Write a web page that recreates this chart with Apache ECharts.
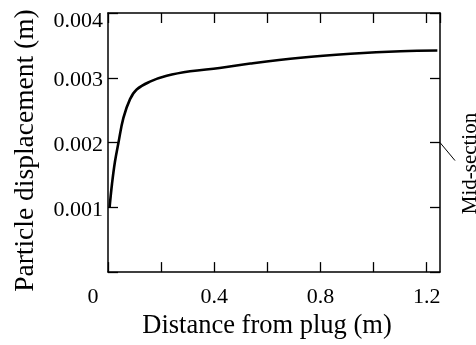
<!DOCTYPE html>
<html>
<head>
<meta charset="utf-8">
<script src="https://cdn.jsdelivr.net/npm/echarts@6/dist/echarts.min.js"></script>
<style>html,body{margin:0;padding:0;background:#fff}#c{width:476px;height:345px}</style>
</head>
<body>
<div id="c"></div>
<script>
var distance = [0.006, 0.015, 0.026, 0.039, 0.058, 0.083, 0.108, 0.158, 0.221, 0.309, 0.42, 0.536, 0.725, 0.913, 1.102, 1.24];
var displacement = [0.00100, 0.00136, 0.00170, 0.00199, 0.00238, 0.00267, 0.00282, 0.00294, 0.00303, 0.00310, 0.00315, 0.00322, 0.00331, 0.00337, 0.00341, 0.00342];
var xTickLabels = ['0', '0.4', '0.8', '1.2'];
var yTickLabels = ['0.001', '0.002', '0.003', '0.004'];
var xTitle = 'Distance from plug (m)';
var yTitle = 'Particle displacement (m)';
var annotation = 'Mid-section';

var font = 'Liberation Serif';
var chart = echarts.init(document.getElementById('c'));
var pts = distance.map(function (d, i) { return [d, displacement[i]]; });
function fmtX(v) {
  var s = (Math.round(v * 10) / 10).toString();
  if (Math.abs(v) < 1e-9) return '{z|0}';
  return xTickLabels.indexOf(s) >= 0 ? s : '';
}
function fmtY(v) {
  var s = v.toFixed(3);
  if (yTickLabels.indexOf(s) < 0) return '';
  return s === yTickLabels[yTickLabels.length - 1] ? '{t|' + s + '}' : '{n|' + s + '}';
}
var axisLine = { onZero: false, lineStyle: { color: '#000', width: 1.5 } };
var tick = { inside: true, length: 10, lineStyle: { color: '#000', width: 1.3 } };
var lblY = { fontFamily: font, fontSize: 22, color: '#000' };
chart.setOption({
  animation: false,
  grid: { left: 108, right: 36, top: 13, bottom: 59 },
  xAxis: [{
    type: 'value', min: 0, max: 1.25, interval: 0.2,
    axisLine: axisLine, axisTick: tick, splitLine: { show: false },
    axisLabel: { formatter: fmtX, color: '#000', fontFamily: font, fontSize: 22, margin: 14, showMaxLabel: false,
      rich: { z: { fontFamily: font, fontSize: 22, color: '#000', padding: [0, 30, 0, 0] } } },
    name: xTitle, nameLocation: 'middle', nameGap: 30,
    nameTextStyle: { color: '#000', fontFamily: font, fontSize: 26.5, padding: [0, 14, 0, 0] }
  }, {
    type: 'value', position: 'top', min: 0, max: 1.25, interval: 0.2,
    axisLine: axisLine, axisTick: tick, axisLabel: { show: false }, splitLine: { show: false }
  }],
  yAxis: [{
    type: 'value', min: 0, max: 0.004, interval: 0.001,
    axisLine: axisLine, axisTick: tick, splitLine: { show: false },
    axisLabel: { formatter: fmtY, color: '#000', fontFamily: font, fontSize: 22, margin: 5,
      rich: {
        t: Object.assign({ padding: [16, 0, 0, 0] }, lblY),
        n: Object.assign({ padding: [5, 0, 0, 0] }, lblY)
      } },
    name: yTitle, nameLocation: 'middle', nameGap: 68, nameRotate: 90,
    nameTextStyle: { color: '#000', fontFamily: font, fontSize: 27.5, padding: [0, 16, 0, 0] }
  }, {
    type: 'value', position: 'right', min: 0, max: 0.004, interval: 0.001,
    axisLine: axisLine, axisTick: tick, axisLabel: { show: false }, splitLine: { show: false }
  }],
  series: [{
    type: 'line', data: pts, smooth: 0.4, showSymbol: false,
    lineStyle: { color: '#000', width: 2.6 }
  }]
});
var p0 = chart.convertToPixel({ xAxisIndex: 0, yAxisIndex: 0 }, [1.25, 0.002]);
chart.setOption({
  graphic: [{
    type: 'line', shape: { x1: p0[0], y1: p0[1], x2: p0[0] + 15, y2: p0[1] + 18 },
    style: { stroke: '#000', lineWidth: 1 }
  }, {
    type: 'text', x: p0[0] + 30, y: p0[1] + 21, rotation: Math.PI / 2,
    style: { text: annotation, fill: '#000', font: '21px "Liberation Serif"', align: 'center', verticalAlign: 'middle' }
  }]
});
</script>
</body>
</html>
